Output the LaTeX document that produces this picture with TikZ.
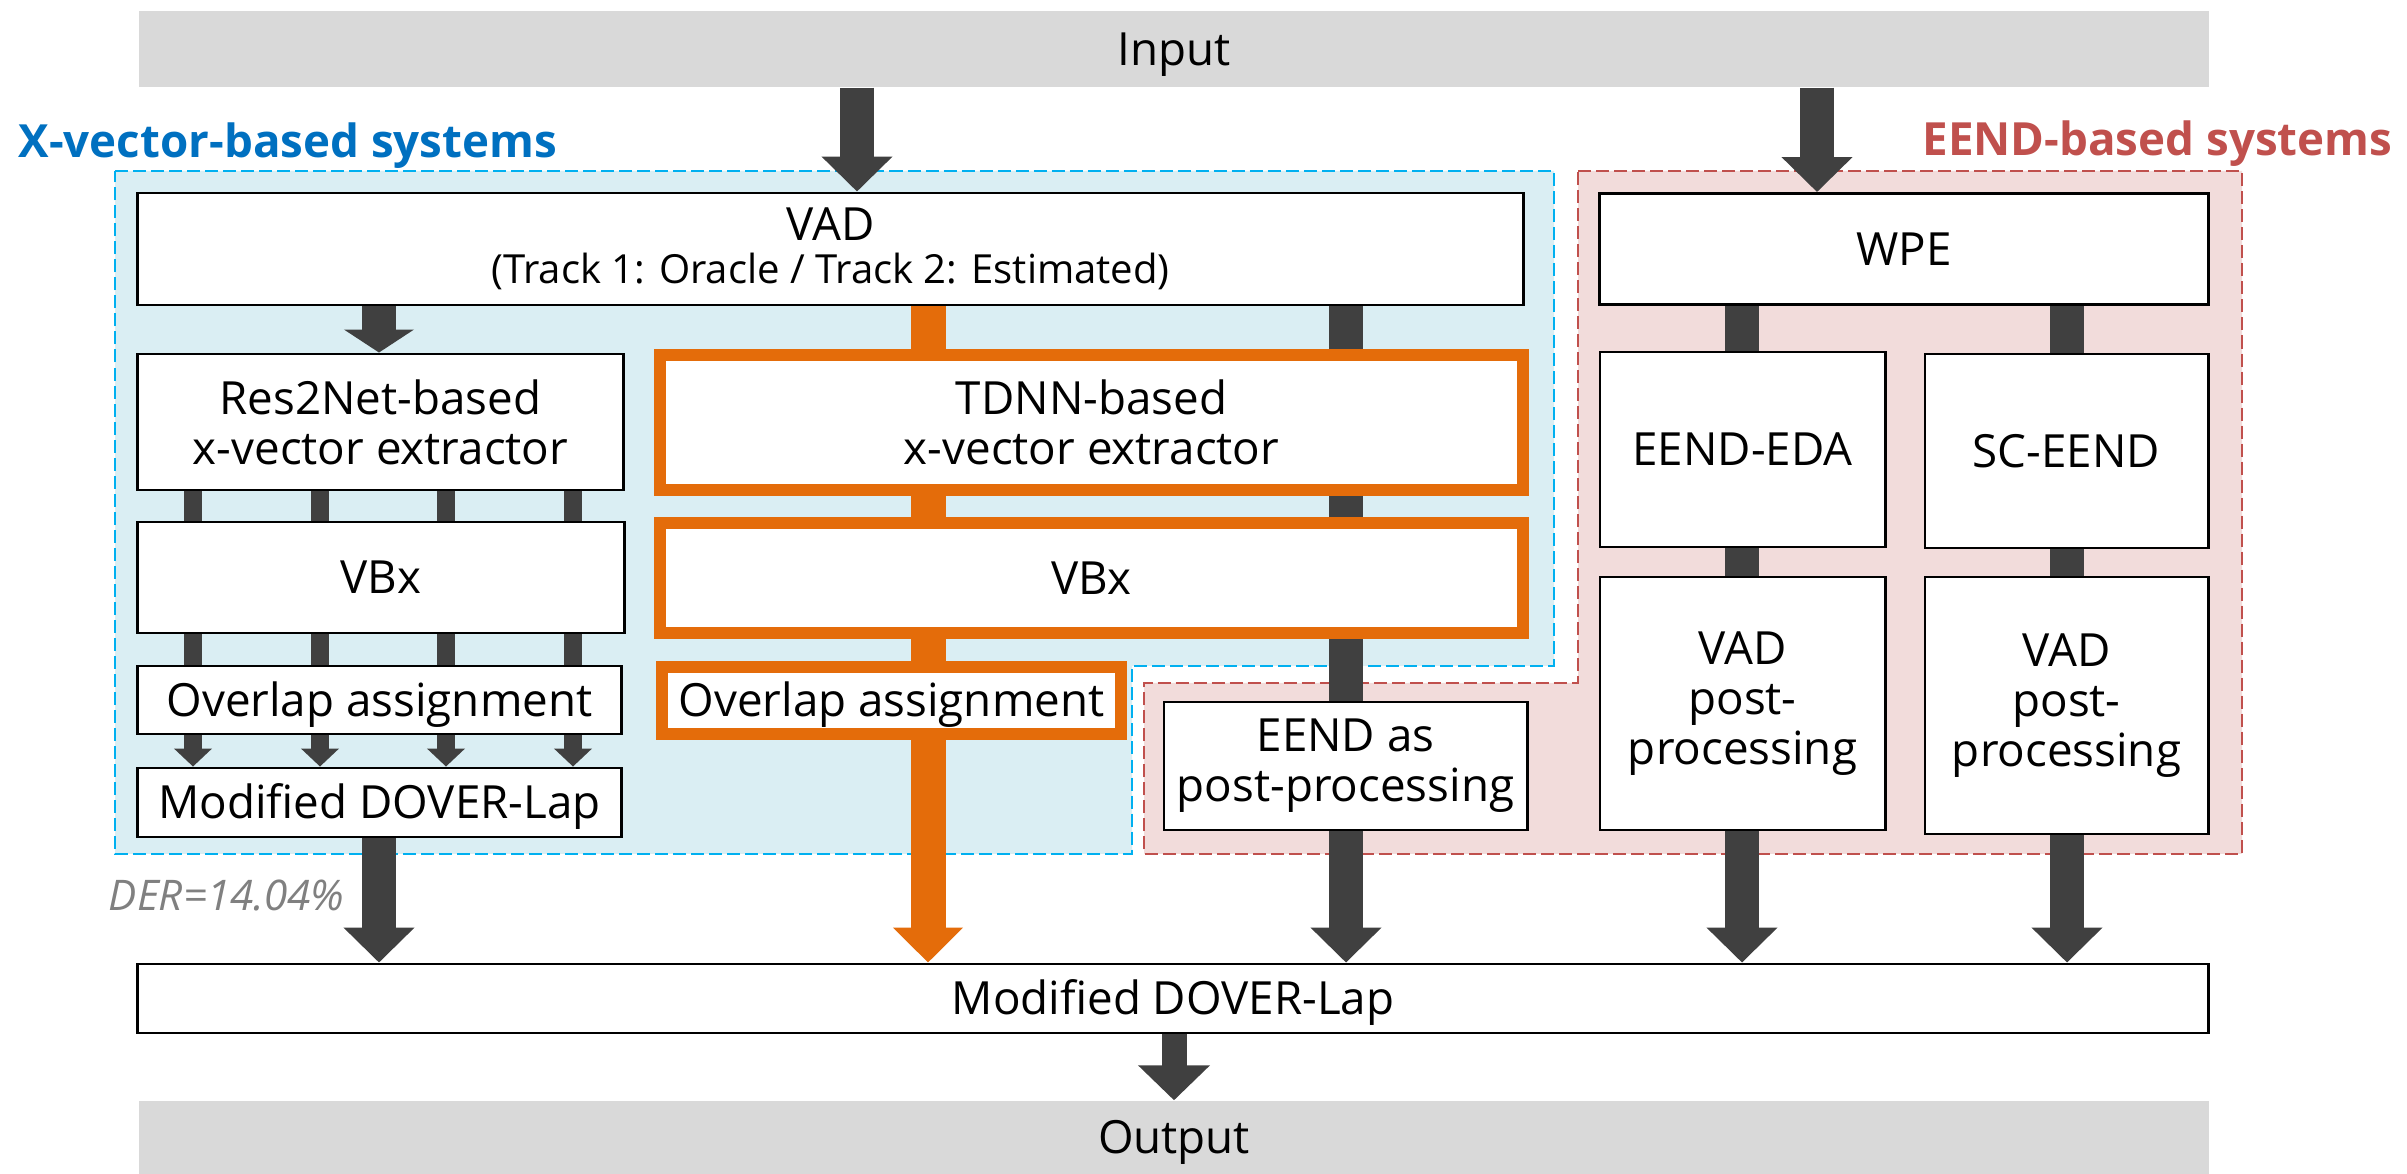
\documentclass[tikz,border=0pt]{standalone}
\usepackage{fontspec}
\setmainfont{Open Sans}
\usetikzlibrary{arrows.meta}

\pgfdeclarelayer{regions}
\pgfdeclarelayer{links}
\pgfsetlayers{regions,links,main}

\newcommand\mainsize{\fontsize{13pt}{14.2pt}\selectfont}
\newcommand\subsize{\fontsize{11.4pt}{13pt}\selectfont}
\newcommand\groupsize{\fontsize{13pt}{15pt}\selectfont}

\begin{document}
\begin{tikzpicture}[x=0.01cm, y=-0.01cm,
    box/.style={draw=black, line width=0.8pt, fill=white, inner sep=0pt, align=center, font=\mainsize},
    hotbox/.style={box, draw=hotOrange, line width=0.12cm},
    bar/.style={fill=barGrey, inner sep=0pt, font=\mainsize},
    single/.style={text height=9.3pt, text depth=0pt},
    link/.style={draw=linkGrey, line width=0.34cm},
    hotlink/.style={draw=hotOrange, line width=0.35cm},
    thinlink/.style={draw=linkGrey, line width=0.18cm},
    bigarrow/.style={link, -{Triangle[width=0.69cm, length=0.35cm]}},
    shortarrow/.style={link, -{Triangle[width=0.69cm, length=0.23cm]}},
    hotarrow/.style={hotlink, -{Triangle[width=0.68cm, length=0.35cm]}},
    thinarrow/.style={thinlink, -{Triangle[width=0.37cm, length=0.18cm]}},
    outarrow/.style={draw=linkGrey, line width=0.25cm, -{Triangle[width=0.70cm, length=0.35cm]}},
    region/.style={line width=0.8pt, dash pattern=on 0.13cm off 0.05cm}]

    % Define colours
    \definecolor{linkGrey}{HTML}{404040}
    \definecolor{barGrey}{HTML}{D9D9D9}
    \definecolor{hotOrange}{HTML}{E46C0A}
    \definecolor{xvecBlue}{HTML}{0070C0}
    \definecolor{xvecLine}{HTML}{00B0F0}
    \definecolor{xvecFill}{HTML}{DAEEF3}
    \definecolor{eendRed}{HTML}{C0504D}
    \definecolor{eendFill}{HTML}{F2DCDB}
    \definecolor{derGrey}{HTML}{808080}

    \useasboundingbox (0,0) rectangle (2407,1174);

    % Draw the two system regions
    \begin{pgfonlayer}{regions}
        \draw[region, draw=xvecLine, fill=xvecFill] (115,171) -- (1554,171) -- (1554,666) -- (1132,666) -- (1132,854) -- (115,854) -- cycle;
        \draw[region, draw=eendRed, fill=eendFill] (1578,171) -- (2242,171) -- (2242,854) -- (1144,854) -- (1144,683) -- (1578,683) -- cycle;
    \end{pgfonlayer}
    \node[anchor=base west, inner sep=0pt, text=xvecBlue, font=\groupsize\bfseries] (xvecLabel) at (18,158) {X-vector-based systems};
    \node[anchor=base east, inner sep=0pt, text=eendRed, font=\groupsize\bfseries] (eendLabel) at (2393,156) {EEND-based systems};

    % Input and output bars
    \node[bar, single, minimum width=20.68cm, minimum height=0.76cm] (input) at (1174,49) {Input};
    \node[bar, single, minimum width=20.68cm, minimum height=0.73cm] (output) at (1174,1137.5) {Output};

    % X-vector-based boxes
    \node[box, minimum width=13.85cm, minimum height=1.12cm] (vad) at (830.5,249) {VAD\\[-2pt]{\subsize (Track 1: Oracle / Track 2: Estimated)}};
    \node[box, minimum width=4.85cm, minimum height=1.36cm] (res) at (380.5,422) {Res2Net-based\\x-vector extractor};
    \node[box, single, minimum width=4.86cm, minimum height=1.11cm] (vbxL) at (381,577.5) {VBx};
    \node[box, single, minimum width=4.83cm, minimum height=0.68cm] (ovlL) at (379.5,700) {Overlap assignment};
    \node[box, single, minimum width=4.83cm, minimum height=0.69cm] (doverL) at (379.5,802.5) {Modified DOVER-Lap};
    \node[hotbox, minimum width=8.63cm, minimum height=1.35cm] (tdnn) at (1091.5,422.5) {TDNN-based\\x-vector extractor};
    \node[hotbox, single, minimum width=8.63cm, minimum height=1.10cm] (vbxT) at (1091.5,578) {VBx};
    \node[hotbox, single, minimum width=4.59cm, minimum height=0.67cm] (ovlT) at (891.5,700.5) {Overlap assignment};
    \node[anchor=base east, inner sep=0pt, text=derGrey, font=\fontsize{12pt}{14pt}\selectfont\itshape] (der) at (345,911) {DER=14.04\%};

    % EEND-based boxes
    \node[box, single, minimum width=6.08cm, minimum height=1.11cm] (wpe) at (1904,249) {WPE};
    \node[box, single, minimum width=2.85cm, minimum height=1.95cm] (eda) at (1742.5,449.5) {EEND-EDA};
    \node[box, single, minimum width=2.83cm, minimum height=1.94cm] (sc) at (2066.5,451) {SC-EEND};
    \node[box, minimum width=2.85cm, minimum height=2.53cm] (vppA) at (1742.5,703.5) {VAD\\post-\\processing};
    \node[box, minimum width=2.83cm, minimum height=2.57cm] (vppB) at (2066.5,705.5) {VAD\\post-\\processing};
    \node[box, minimum width=3.63cm, minimum height=1.28cm] (eendpp) at (1345.5,766) {EEND as\\post-processing};

    % Final fusion
    \node[box, single, minimum width=20.70cm, minimum height=0.69cm] (doverB) at (1173,998.5) {Modified DOVER-Lap};

    % Columns of the connectors
    \coordinate (colIn) at (857,0);
    \coordinate (colWpe) at (1817,0);
    \coordinate (colRes) at (379,0);
    \coordinate (colHot) at (928,0);
    \coordinate (colPp) at (1346,0);
    \coordinate (colEda) at (1742,0);
    \coordinate (colSc) at (2067,0);
    \coordinate (colOut) at (1174,0);

    % Draw connectors
    \begin{pgfonlayer}{links}
        \draw[bigarrow] (input.south -| colIn) -- (vad.north -| colIn);
        \draw[bigarrow] (input.south -| colWpe) -- (wpe.north -| colWpe);
        \draw[shortarrow] (vad.south -| colRes) -- (res.north -| colRes);
        \draw[hotlink] (vad.south -| colHot) -- (tdnn.north -| colHot);
        \draw[hotlink] (tdnn.south -| colHot) -- (vbxT.north -| colHot);
        \draw[hotlink] (vbxT.south -| colHot) -- (ovlT.north -| colHot);
        \draw[hotarrow] (ovlT.south -| colHot) -- (doverB.north -| colHot);
        \draw[link] (vad.south -| colPp) -- (eendpp.north -| colPp);
        \draw[bigarrow] (eendpp.south -| colPp) -- (doverB.north -| colPp);
        \foreach \x in {193,320,446,573} {
            \coordinate (colSub) at (\x,0);
            \draw[thinlink] (res.south -| colSub) -- (vbxL.north -| colSub);
            \draw[thinlink] (vbxL.south -| colSub) -- (ovlL.north -| colSub);
            \draw[thinarrow] (ovlL.south -| colSub) -- (doverL.north -| colSub);
        }
        \draw[bigarrow] (doverL.south -| colRes) -- (doverB.north -| colRes);
        \draw[link] (wpe.south -| colEda) -- (eda.north -| colEda);
        \draw[link] (wpe.south -| colSc) -- (sc.north -| colSc);
        \draw[link] (eda.south -| colEda) -- (vppA.north -| colEda);
        \draw[link] (sc.south -| colSc) -- (vppB.north -| colSc);
        \draw[bigarrow] (vppA.south -| colEda) -- (doverB.north -| colEda);
        \draw[bigarrow] (vppB.south -| colSc) -- (doverB.north -| colSc);
        \draw[outarrow] (doverB.south -| colOut) -- (output.north -| colOut);
    \end{pgfonlayer}

\end{tikzpicture}
\end{document}
